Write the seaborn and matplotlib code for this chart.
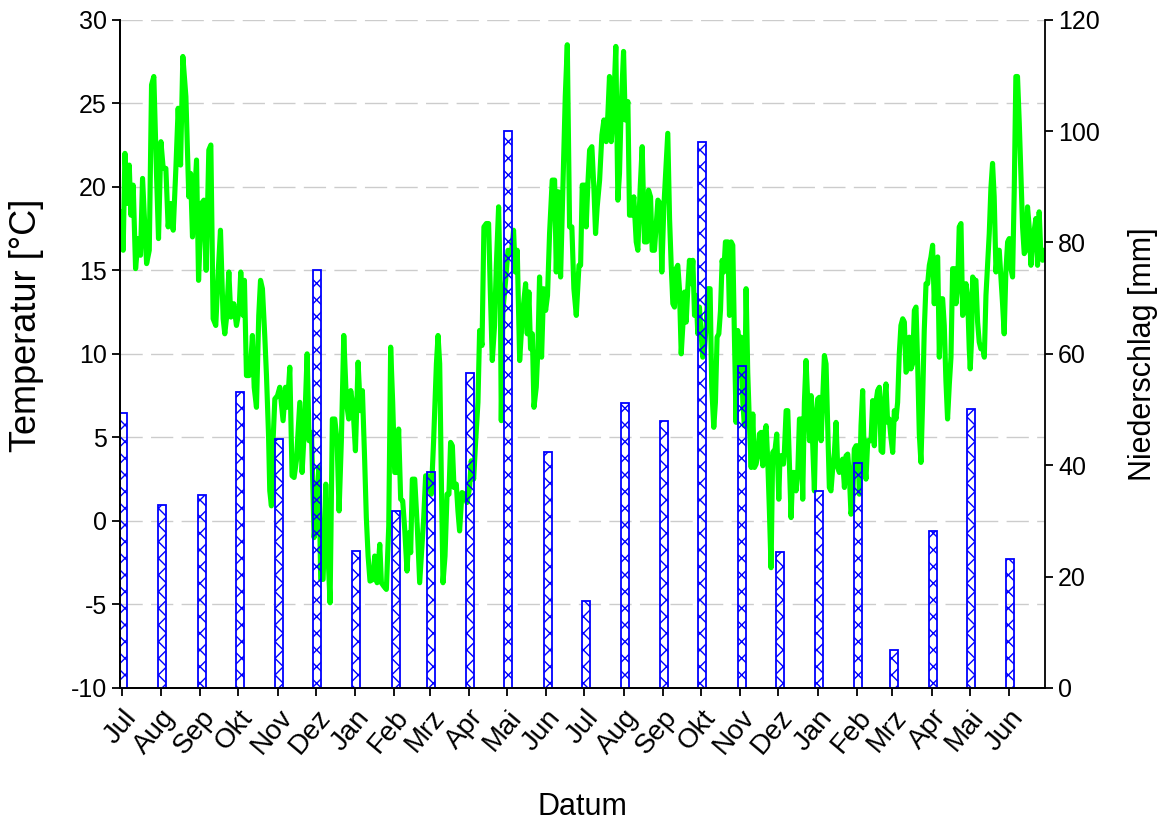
import numpy as np
import pandas as pd
import seaborn as sns
import matplotlib.pyplot as plt

# month labels along the x axis (two years, Jul - Jun)
month_labels = ['Jul', 'Aug', 'Sep', 'Okt', 'Nov', 'Dez', 'Jan', 'Feb', 'Mrz', 'Apr', 'Mai', 'Jun',
                'Jul', 'Aug', 'Sep', 'Okt', 'Nov', 'Dez', 'Jan', 'Feb', 'Mrz', 'Apr', 'Mai', 'Jun']

# monthly precipitation [mm], one bar per month
precip_mm = [49.3, 32.8, 34.6, 53.2, 44.8, 75.1, 24.6, 31.7, 38.7, 56.6, 100.0, 42.3,
             15.6, 51.1, 48.0, 98.1, 57.8, 24.4, 35.3, 40.4, 6.8, 28.2, 50.1, 23.2]

# daily temperature [°C], day = days since 1 Jul of the first year
temp_day_1 = [0, 1, 2.4, 4.2, 5.8, 7.1, 8.9, 10.8, 12.9, 14.7,
              16.3, 19.5, 21.6, 23.4, 25.2, 27.3, 28.9, 30.8, 32.6, 34.7,
              36.5, 38.4, 40.5, 42.6, 44.4, 46.3, 48.1, 50.5, 52.8, 54.2,
              55.7, 58.9, 60.5, 62.8, 64.7, 66.5, 68.6, 70.2, 72.0, 74.1,
              76.0, 77.8, 79.9, 81.2, 82.5, 84.4, 86.0, 88.3, 90.4, 92.5,
              93.8, 95.7, 96.7, 98.3, 100.4, 101.7, 103.0, 104.4, 106.2, 108.0,
              109.4, 110.9, 112.8, 114.1, 115.7, 116.7]
temp_c_1 = [18.5, 16.2, 22.0, 19.0, 21.3, 18.3, 20.1, 15.1, 16.9, 15.9,
            20.5, 15.4, 16.2, 26.1, 26.6, 20.8, 16.9, 22.7, 21.1, 21.1,
            17.6, 19.0, 17.4, 21.1, 24.7, 21.3, 27.8, 25.4, 19.4, 20.8,
            17.0, 21.6, 14.4, 19.0, 19.2, 15.0, 22.2, 22.5, 12.1, 11.7,
            14.9, 17.4, 12.1, 11.2, 12.1, 14.9, 12.2, 13.0, 11.7, 12.6,
            14.9, 12.3, 14.4, 8.7, 8.7, 9.4, 11.1, 8.0, 6.8, 12.3,
            14.4, 13.9, 11.0, 8.7, 5.2, 1.8]

temp_day_2 = [118.0, 119.3, 120.7, 122.8, 124.6, 127.2, 129.1, 130.6, 132.5, 134.3,
              135.9, 137.7, 140.4, 142.2, 144.3, 146.2, 147.7, 149.6, 151.7, 153.5,
              155.4, 156.9, 158.8, 160.9, 162.7, 164.3, 166.1, 168.0, 169.8, 171.4,
              173.2, 175.1, 177.2, 179.0, 180.6, 182.4, 184.3, 186.4, 188.2, 189.8,
              191.6, 192.9, 194.3, 195.8, 198.2, 199.5, 201.4, 203.5, 204.8, 206.6,
              208.7, 210.6, 212.1, 213.7, 215.3, 217.1, 218.4, 220.0, 221.6, 223.2,
              225.0, 226.6, 227.9, 229.2, 231.1, 233.2, 235.0]
temp_c_2 = [0.9, 4.8, 7.3, 7.5, 8.0, 6.0, 8.0, 6.8, 9.2, 2.7,
            2.6, 3.6, 7.1, 2.9, 5.9, 10.0, 4.8, 5.3, -1.0, 0.6,
            3.2, -3.5, -3.5, 2.2, -2.1, -4.9, 6.1, 6.1, 4.8, 0.6,
            4.8, 11.1, 7.1, 6.1, 7.8, 6.8, 4.2, 9.5, 6.6, 7.8,
            3.6, 0.2, -2.1, -3.6, -3.5, -2.1, -3.7, -1.4, -3.7, -3.9,
            -4.1, -0.3, 10.4, 7.1, 2.9, 2.9, 5.5, 1.3, 1.2, -0.5,
            -3.0, -0.7, -1.9, 2.5, 2.5, -0.5, -3.7]

temp_day_3 = [238.2, 239.7, 241.6, 244.2, 246.0, 248.2, 249.5, 250.8, 252.1, 253.4,
              255.0, 256.6, 258.1, 259.4, 260.8, 262.1, 263.9, 265.2, 266.5, 268.4,
              270.5, 272.3, 274.4, 275.7, 277.6, 279.2, 281.0, 282.3, 284.2, 285.7,
              287.6, 289.4, 290.7, 292.3, 294.1, 295.5, 297.3, 298.6, 299.4, 300.7,
              302.6, 304.7, 307.3, 309.1, 310.4, 312.0, 313.9, 315.2, 317.0, 318.6,
              319.9, 321.2, 322.5, 323.9, 325.2, 327.0, 328.3, 329.6, 331.2, 332.8,
              334.4, 335.9, 337.5, 339.6, 341.5, 342.8, 344.4, 346.2, 348.0, 349.9,
              351.5, 353.3, 355.1, 356.7, 358.6, 360.7]
temp_c_3 = [0.2, 2.7, 2.7, 1.6, 4.8, 9.4, 11.1, 9.4, 2.5, -3.7,
            -2.1, 1.6, 1.6, 4.7, 4.5, 2.0, 2.2, 0.6, -0.6, 1.7,
            1.6, 1.1, 2.0, 3.6, 2.5, 4.8, 7.1, 11.4, 10.5, 17.6,
            17.8, 17.8, 13.9, 9.6, 11.7, 15.3, 18.8, 13.9, 6.0, 12.6,
            14.2, 16.2, 16.0, 17.4, 14.9, 16.2, 9.6, 11.2, 13.0, 14.2,
            11.2, 13.7, 10.3, 11.2, 6.8, 8.0, 10.3, 14.6, 9.8, 13.9,
            12.6, 13.5, 17.2, 20.4, 20.4, 14.9, 19.7, 14.6, 19.9, 25.4,
            28.5, 17.6, 17.6, 13.9, 12.3, 15.3]

temp_day_4 = [362.0, 363.3, 365.1, 366.4, 367.7, 369.1, 370.9, 372.5, 373.8, 375.1,
              377.0, 378.8, 380.4, 382.2, 383.5, 384.8, 386.2, 388.0, 389.8, 391.4,
              392.7, 394.0, 395.9, 397.2, 399.3, 400.6, 402.4, 404.0, 405.9, 407.2,
              409.0, 410.6, 412.4, 414.3, 415.6, 417.2, 418.5, 420.3, 421.6, 423.0,
              424.8, 426.1, 427.7, 429.5, 430.8, 432.2, 433.5, 434.8, 436.1, 437.4,
              438.7, 440.0, 441.4, 442.7, 444.0, 445.3, 446.6, 447.9, 449.2, 450.6,
              451.9, 453.2, 454.5, 455.8, 457.1, 458.4, 459.8, 461.1, 462.4, 464.2,
              465.5, 467.1, 468.4, 469.7, 471.1, 472.4, 473.7, 475.0, 476.3, 478.2,
              479.5, 480.8, 482.1, 483.4]
temp_c_4 = [15.3, 20.1, 20.1, 17.6, 20.1, 22.2, 22.4, 19.9, 17.2, 18.8,
            20.4, 23.1, 24.0, 22.7, 24.3, 26.6, 22.7, 24.7, 28.4, 19.2,
            20.8, 24.7, 28.1, 24.0, 25.1, 18.3, 18.3, 19.4, 16.7, 16.2,
            19.9, 22.4, 16.7, 16.7, 19.8, 19.4, 16.2, 16.2, 17.6, 19.2,
            19.0, 14.9, 18.8, 21.3, 23.2, 18.1, 15.3, 13.0, 12.8, 15.1,
            15.3, 13.9, 10.0, 11.7, 13.7, 11.9, 13.9, 15.6, 14.2, 15.6,
            12.3, 13.5, 11.2, 12.8, 11.2, 9.8, 10.3, 11.7, 13.9, 13.9,
            8.0, 5.6, 7.1, 11.0, 11.2, 12.6, 15.6, 14.9, 16.7, 16.7,
            12.3, 16.7, 16.5, 11.0]

temp_day_5 = [484.7, 486.0, 487.4, 488.7, 490.0, 491.3, 492.6, 493.9, 495.2, 496.6,
              497.9, 499.2, 500.5, 501.8, 503.1, 504.4, 505.8, 507.1, 508.4, 509.7,
              511.0, 512.3, 513.6, 515.5, 516.8, 518.4, 519.4, 520.7, 522.1, 522.8,
              524.2, 525.5, 526.8, 528.1, 529.4, 530.7, 532.0, 533.4, 534.7, 536.0,
              537.3, 538.6, 539.9, 541.2, 542.6, 543.9, 545.2, 546.5, 547.8, 549.1,
              550.4, 551.8, 553.1, 554.4, 555.7, 557.0, 558.3, 559.6, 561.0, 562.3,
              563.6, 564.9, 566.2, 567.5, 568.8, 570.2, 571.5, 572.8, 574.1, 575.4,
              576.7, 578.0, 579.4, 580.7, 582.0, 583.3, 584.6, 585.9, 587.2, 588.6,
              589.9, 591.2, 592.5, 593.8, 595.1, 596.4, 597.8, 599.1, 600.4, 601.7]
temp_c_5 = [5.9, 11.4, 10.0, 11.0, 7.1, 5.7, 13.9, 8.9, 5.9, 3.2,
            6.4, 3.2, 3.4, 3.9, 5.2, 5.3, 3.3, 5.2, 5.7, 3.6,
            0.6, -2.8, 4.1, 4.3, 5.2, 1.3, 3.9, 3.9, 3.4, 4.1,
            6.6, 6.6, 3.4, 0.2, 2.9, 2.9, 1.8, 2.9, 6.1, 6.1,
            1.3, 7.1, 9.6, 7.3, 4.8, 7.5, 4.5, 1.8, 6.4, 7.3,
            7.4, 4.8, 7.3, 9.9, 9.4, 5.7, 2.0, 1.8, 3.2, 4.1,
            5.9, 3.2, 2.9, 3.4, 3.7, 2.0, 3.9, 4.0, 2.7, 0.4,
            1.1, 4.3, 4.5, 4.5, 1.6, 5.7, 7.8, 3.6, 2.5, 4.8,
            4.8, 4.8, 7.2, 4.5, 7.1, 7.8, 8.0, 4.2, 4.1, 7.1]

temp_day_6 = [603.0, 604.3, 605.6, 606.9, 608.3, 609.6, 610.9, 612.2, 613.5, 614.8,
              616.2, 617.5, 618.8, 620.1, 621.4, 622.7, 624.0, 625.4, 626.7, 628.0,
              629.3, 630.6, 631.9, 633.2, 634.6, 635.9, 637.2, 638.5, 639.8, 641.1,
              642.4, 643.8, 645.1, 646.4, 647.7, 649.0, 650.3, 651.6, 653.0, 654.3,
              655.6, 656.9, 658.2, 659.5, 660.8, 662.2, 663.5, 664.8, 666.1, 667.4,
              668.7, 669.5, 670.6, 671.4, 672.7, 674.0, 675.3, 676.6, 677.9, 679.2,
              680.6, 681.9, 683.2, 684.5, 685.8, 687.1, 688.4, 689.8, 691.1, 692.4,
              693.7, 695.0, 696.3, 697.6, 699.0, 700.3, 701.6, 702.9, 704.2, 705.5,
              706.8, 708.2, 709.5, 710.8, 712.1, 713.4, 714.7, 716.0, 717.4, 718.7,
              720.0, 721.3, 722.6, 723.9, 725.2, 726.6, 727.4]
temp_c_6 = [8.2, 5.9, 6.1, 5.0, 4.1, 6.6, 6.1, 7.1, 10.0, 11.7,
            12.1, 11.9, 8.9, 9.1, 11.0, 9.1, 9.4, 12.6, 12.8, 9.4,
            5.2, 3.5, 7.1, 11.4, 14.2, 14.2, 15.3, 15.8, 16.5, 13.0,
            15.6, 15.8, 9.8, 13.3, 13.3, 11.7, 8.4, 6.1, 8.2, 9.8,
            15.1, 15.1, 13.0, 13.9, 17.6, 17.8, 12.3, 12.6, 14.2, 13.5,
            10.3, 9.1, 11.0, 14.6, 14.4, 14.4, 11.9, 10.7, 10.3, 10.5,
            9.8, 13.5, 15.3, 17.2, 19.9, 21.4, 19.4, 14.9, 16.2, 16.2,
            14.6, 13.0, 11.2, 14.9, 16.7, 16.9, 15.1, 14.6, 19.7, 26.6,
            26.6, 23.8, 20.8, 17.6, 16.0, 16.2, 18.8, 17.6, 15.3, 16.7,
            17.4, 18.1, 15.3, 18.5, 16.0, 15.6, 16.2]

# put the temperature pieces together
temp_df = pd.DataFrame({
    'day': temp_day_1 + temp_day_2 + temp_day_3 + temp_day_4 + temp_day_5 + temp_day_6,
    'temp': temp_c_1 + temp_c_2 + temp_c_3 + temp_c_4 + temp_c_5 + temp_c_6,
})

# day offset of every month start
start = pd.Timestamp('2009-07-01')
month_start = pd.date_range(start, periods=24, freq='MS')
month_day = np.array((month_start - start).days, dtype=float)

sns.set_theme(style='ticks')
plt.rcParams['font.family'] = ['Liberation Sans', 'DejaVu Sans']
plt.rcParams['hatch.linewidth'] = 1.0
plt.rcParams['axes.unicode_minus'] = False
plt.rcParams['text.color'] = 'black'
plt.rcParams['axes.labelcolor'] = 'black'

fig = plt.figure(figsize=(11.65, 8.21), dpi=100)
ax = fig.add_axes([0.103, 0.162, 0.794, 0.814])
ax2 = ax.twinx()

# temperature line (left axis)
sns.lineplot(data=temp_df, x='day', y='temp', ax=ax, color='#00ff00', linewidth=3.7,
             estimator=None, sort=False)

# precipitation bars (right axis), hatched, drawn above the line
ax2.bar(month_day + 1, precip_mm, width=6.3, facecolor='none', edgecolor='#0000ff',
        hatch='xx', linewidth=1.3)

ax.set_xlim(-1.5, 728.5)
ax.set_ylim(-10, 30)
ax.set_yticks(np.arange(-10, 31, 5))
ax2.set_ylim(0, 120)
ax2.set_yticks(np.arange(0, 121, 20))

ax.set_xticks(month_day)
ax.set_xticklabels(month_labels, rotation=50, ha='right', rotation_mode='anchor')

# dashed horizontal grid
ax.grid(axis='y', color='#cccccc', linestyle=(0, (16, 6)), linewidth=1.0)
ax.grid(axis='x', visible=False)

for a in (ax, ax2):
    a.spines['top'].set_visible(False)
    for s in ('left', 'right', 'bottom'):
        a.spines[s].set_linewidth(1.3)
        a.spines[s].set_color('black')
    a.tick_params(direction='out', length=6, width=1.3, labelsize=18, colors='black')
ax.spines['right'].set_visible(False)
ax.tick_params(axis='x', labelsize=20, pad=6)

ax.set_xlabel('Datum', fontsize=22, labelpad=24)
ax.set_ylabel('Temperatur [°C]', fontsize=26)
ax.yaxis.set_label_coords(-0.082, 0.543)
ax2.set_ylabel('Niederschlag [mm]', fontsize=22, labelpad=20)

fig.savefig('out.png', dpi=100)
